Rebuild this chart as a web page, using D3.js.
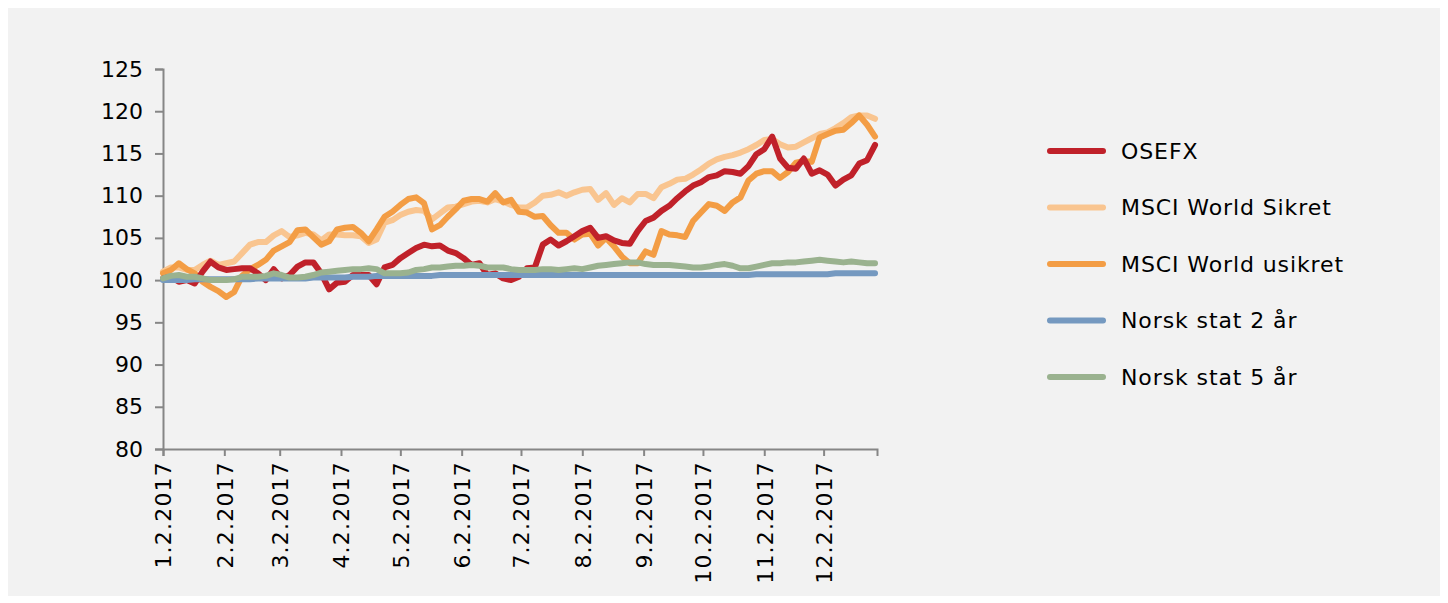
<!DOCTYPE html>
<html>
<head>
<meta charset="utf-8">
<script src="https://cdn.jsdelivr.net/npm/d3@7"></script>
<style>
	body { margin: 0; background: #ffffff; }
	svg { display: block; font-family: "DejaVu Sans", sans-serif; }
</style>
</head>
<body>
<svg id="chart" width="1448" height="603"></svg>
<script>
// x categories: one sample every 4 days from 2 Jan 2017
let start_date = new Date(2017, 0, 2),
	end_date = new Date(2017, 11, 29),
	dates = d3.timeDay.range(start_date, end_date, 4);

let tick_labels = ['1.2.2017', '2.2.2017', '3.2.2017', '4.2.2017', '5.2.2017', '6.2.2017',
	'7.2.2017', '8.2.2017', '9.2.2017', '10.2.2017', '11.2.2017', '12.2.2017'];
let y_ticks = [80, 85, 90, 95, 100, 105, 110, 115, 120, 125];

let series_names = ['OSEFX', 'MSCI World Sikret', 'MSCI World usikret', 'Norsk stat 2 år', 'Norsk stat 5 år'];
let series_colors = ['#c0212a', '#f9c590', '#f39d45', '#7599c0', '#9ab28f'];

let osefx = [
	100.2, 100.4, 99.8, 100.0, 99.6, 101.0, 102.2, 101.5, 101.2, 101.3,
	101.4, 101.4, 100.8, 100.0, 101.3, 100.2, 100.6, 101.6, 102.1, 102.1,
	100.8, 98.9, 99.7, 99.8, 100.6, 100.6, 100.6, 99.5, 101.5, 101.8,
	102.6, 103.2, 103.8, 104.2, 104.0, 104.1, 103.5, 103.2, 102.6, 101.8,
	102.0, 100.6, 100.8, 100.2, 100.0, 100.4, 101.4, 101.5, 104.2, 104.8,
	104.1, 104.6, 105.2, 105.8, 106.2, 105.0, 105.2, 104.7, 104.4, 104.3,
	105.8, 107.0, 107.4, 108.2, 108.8, 109.7, 110.5, 111.2, 111.6, 112.2,
	112.4, 112.9, 112.8, 112.6, 113.5, 114.9, 115.5, 117.0, 114.4, 113.3,
	113.2, 114.4, 112.6, 113.0, 112.5, 111.2, 111.9, 112.4, 113.8, 114.2,
	116.0];

let msci_sikret = [
	101.0, 101.5, 101.5, 101.2, 101.2, 101.8, 102.3, 101.8, 102.0, 102.2,
	103.2, 104.2, 104.5, 104.5, 105.3, 105.8, 105.1, 105.3, 105.6, 105.4,
	104.7, 105.4, 105.4, 105.3, 105.3, 105.2, 104.4, 104.8, 106.8, 107.1,
	107.7, 108.1, 108.3, 108.2, 107.2, 107.9, 108.6, 108.7, 109.0, 109.3,
	109.4, 109.2, 109.6, 109.3, 108.9, 108.6, 108.6, 109.2, 110.0, 110.1,
	110.4, 110.0, 110.4, 110.7, 110.8, 109.5, 110.3, 108.9, 109.7, 109.2,
	110.2, 110.2, 109.7, 111.0, 111.4, 111.9, 112.0, 112.5, 113.1, 113.8,
	114.3, 114.6, 114.8, 115.1, 115.5, 116.0, 116.6, 116.7, 116.1, 115.7,
	115.8, 116.3, 116.8, 117.3, 117.5, 118.0, 118.6, 119.3, 119.5, 119.5,
	119.1];

let msci_usikret = [
	100.8, 101.2, 102.0, 101.3, 100.8, 99.8, 99.2, 98.7, 98.0, 98.6,
	100.5, 101.3, 101.8, 102.4, 103.5, 104.0, 104.5, 105.9, 106.0, 105.1,
	104.2, 104.6, 106.0, 106.2, 106.3, 105.6, 104.6, 106.0, 107.5, 108.1,
	108.9, 109.6, 109.8, 109.1, 106.0, 106.5, 107.5, 108.4, 109.4, 109.6,
	109.6, 109.3, 110.3, 109.2, 109.5, 108.1, 108.0, 107.5, 107.6, 106.5,
	105.6, 105.6, 104.8, 105.4, 105.5, 104.1, 105.0, 104.0, 102.8, 102.0,
	102.0, 103.4, 103.0, 105.8, 105.4, 105.3, 105.1, 107.0, 108.0, 109.0,
	108.8, 108.2, 109.2, 109.8, 111.8, 112.6, 112.9, 112.9, 112.1, 112.8,
	113.9, 114.1, 114.0, 116.9, 117.3, 117.7, 117.8, 118.6, 119.5, 118.4,
	117.0];

let stat_2y = [
	100.0, 100.0, 100.0, 100.0, 100.1, 100.1, 100.1, 100.1, 100.1, 100.1,
	100.1, 100.1, 100.2, 100.2, 100.2, 100.2, 100.2, 100.2, 100.2, 100.3,
	100.3, 100.3, 100.3, 100.3, 100.4, 100.4, 100.4, 100.5, 100.5, 100.5,
	100.5, 100.5, 100.5, 100.5, 100.5, 100.6, 100.6, 100.6, 100.6, 100.6,
	100.6, 100.6, 100.6, 100.6, 100.6, 100.6, 100.6, 100.6, 100.6, 100.6,
	100.6, 100.6, 100.6, 100.6, 100.6, 100.6, 100.6, 100.6, 100.6, 100.6,
	100.6, 100.6, 100.6, 100.6, 100.6, 100.6, 100.6, 100.6, 100.6, 100.6,
	100.6, 100.6, 100.6, 100.6, 100.6, 100.7, 100.7, 100.7, 100.7, 100.7,
	100.7, 100.7, 100.7, 100.7, 100.7, 100.8, 100.8, 100.8, 100.8, 100.8,
	100.8];

let stat_5y = [
	100.2, 100.5, 100.6, 100.4, 100.4, 100.2, 100.0, 100.0, 100.0, 100.1,
	100.4, 100.4, 100.4, 100.5, 100.8, 100.6, 100.3, 100.3, 100.4, 100.6,
	100.9, 101.0, 101.1, 101.2, 101.3, 101.3, 101.4, 101.3, 100.8, 100.8,
	100.8, 100.9, 101.2, 101.3, 101.5, 101.5, 101.6, 101.7, 101.7, 101.8,
	101.7, 101.5, 101.5, 101.5, 101.3, 101.2, 101.2, 101.2, 101.3, 101.3,
	101.2, 101.3, 101.4, 101.3, 101.5, 101.7, 101.8, 101.9, 102.0, 102.1,
	102.1, 101.9, 101.8, 101.8, 101.8, 101.7, 101.6, 101.5, 101.5, 101.6,
	101.8, 101.9, 101.7, 101.4, 101.4, 101.6, 101.8, 102.0, 102.0, 102.1,
	102.1, 102.2, 102.3, 102.4, 102.3, 102.2, 102.1, 102.2, 102.1, 102.0,
	102.0];

let series_values = [osefx, msci_sikret, msci_usikret, stat_2y, stat_5y];
// drawing order, bottom first
let draw_order = [1, 2, 0, 3, 4];

let svg = d3.select('#chart'),
	line_width = 6,
	axis_color = '#868686';

svg.append('rect')
	.attr('x', 8)
	.attr('y', 8)
	.attr('width', 1432)
	.attr('height', 588)
	.attr('fill', '#f2f2f2');

let xScale = d3.scaleTime()
	.domain([start_date, end_date])
	.range([163, 877]);
let yScale = d3.scaleLinear()
	.domain([80, 125])
	.range([449, 69]);

let parse_tick = d3.timeParse('%m.%d.%Y'),
	tick_dates = tick_labels.map(d => parse_tick(d));

// y axis
let y_axis = svg.append('g')
	.attr('transform', `translate(${xScale.range()[0]}, 0)`)
	.call(d3.axisLeft(yScale)
		.tickValues(y_ticks)
		.tickSize(8)
		.tickPadding(12)
		.tickFormat(d3.format('d')));

// x axis
let x_axis = svg.append('g')
	.attr('transform', `translate(0, ${yScale.range()[0]})`)
	.call(d3.axisBottom(xScale)
		.tickValues(tick_dates)
		.tickSize(7)
		.tickFormat((d, i) => tick_labels[i]));

x_axis.selectAll('text')
	.attr('transform', 'rotate(-90)')
	.attr('text-anchor', 'end')
	.attr('x', -12)
	.attr('y', 0)
	.attr('dy', '0.36em');

[y_axis, x_axis].forEach(ax => {
	ax.select('.domain')
		.attr('stroke', axis_color)
		.attr('stroke-width', 2);
	ax.selectAll('.tick line')
		.attr('stroke', axis_color)
		.attr('stroke-width', 2);
	ax.selectAll('text')
		.attr('fill', '#000000')
		.style('font-size', '22px')
		.style('font-family', '"DejaVu Sans", sans-serif');
});
x_axis.selectAll('text')
	.style('letter-spacing', '1.2px');

// series lines
let line = d3.line()
	.x((d, i) => xScale(dates[i]))
	.y(d => yScale(d))
	.curve(d3.curveLinear);

svg.append('g')
	.selectAll('.series_line')
	.data(draw_order)
	.enter()
	.append('path')
	.attr('class', 'series_line')
	.attr('d', k => line(series_values[k]))
	.attr('fill', 'none')
	.attr('stroke', k => series_colors[k])
	.attr('stroke-width', line_width)
	.attr('stroke-linejoin', 'round')
	.attr('stroke-linecap', 'round');

// legend
let legend_g = svg.append('g')
	.attr('transform', 'translate(1048, 151)');

let legend_item = legend_g.selectAll('.legend_item')
	.data(series_names)
	.enter()
	.append('g')
	.attr('class', 'legend_item')
	.attr('transform', (d, i) => `translate(0, ${i * 56.5})`);

legend_item.append('line')
	.attr('x1', 2)
	.attr('x2', 55)
	.attr('stroke', (d, i) => series_colors[i])
	.attr('stroke-width', line_width)
	.attr('stroke-linecap', 'round');

legend_item.append('text')
	.attr('x', 73)
	.attr('dy', '0.36em')
	.style('font-size', '22px')
	.style('letter-spacing', '0.9px')
	.text(d => d);
</script>
</body>
</html>
